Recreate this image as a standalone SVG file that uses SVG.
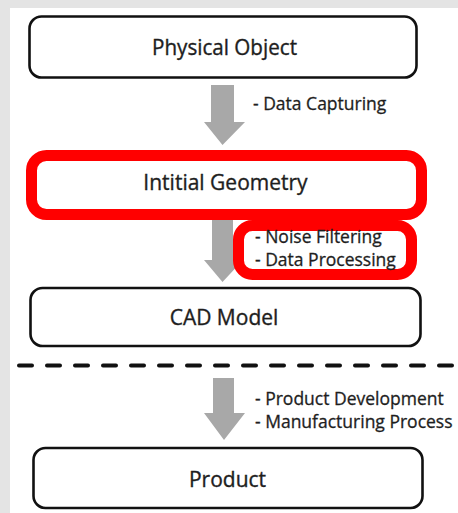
<svg xmlns="http://www.w3.org/2000/svg" width="458" height="513" viewBox="0 0 458 513">
<defs>
<style>
.box{fill:#fff;stroke:#111;stroke-width:2.6}
.hl{fill:none;stroke:#f00;stroke-width:11}
.arrow{fill:#a8a8a8}
.lbl{font-family:"Open Sans","Noto Sans",sans-serif;font-size:21px;fill:#1e1e1e;stroke:#1e1e1e;stroke-width:0.35;text-anchor:middle}
.side{font-family:"Open Sans","Noto Sans",sans-serif;font-size:17.5px;fill:#1e1e1e;stroke:#1e1e1e;stroke-width:0.3}
</style>
</defs>
<rect x="0" y="0" width="458" height="513" fill="#e4e4e4"/>
<rect x="10" y="8" width="448" height="505" fill="#fff"/>
<g id="connectors">
<polygon class="arrow" points="211,85 234,85 234,122 245,122 222.5,145 204,122 211,122"/>
<polygon class="arrow" points="212,210 233,210 233,260 243,260 222.5,282 204,260 212,260"/>
<polygon class="arrow" points="213,378 234,378 234,413 245,413 224,440 204,413 213,413"/>
<line x1="19" y1="365.5" x2="452" y2="365.5" stroke="#111" stroke-width="4" stroke-linecap="round" stroke-dasharray="13 15"/>
</g>
<g id="physical-object">
<rect class="box" x="29.5" y="16.5" width="387" height="61" rx="12"/>
<text class="lbl" x="224.5" y="55" textLength="145" lengthAdjust="spacingAndGlyphs">Physical Object</text>
</g>
<g id="label-data-capturing">
<text class="side" x="253" y="110">- Data Capturing</text>
</g>
<g id="initial-geometry">
<rect class="box" x="33" y="158" width="386" height="55" rx="12"/>
<rect class="hl" x="31.5" y="155.5" width="390" height="59" rx="15"/>
<text class="lbl" x="225.5" y="190">Intitial Geometry</text>
</g>
<g id="label-processing">
<rect class="hl" x="238.5" y="225.5" width="173" height="49" rx="14"/>
<text class="side" x="255" y="243">- Noise Filtering</text>
<text class="side" x="255" y="266">- Data Processing</text>
</g>
<g id="cad-model">
<rect class="box" x="30.5" y="288" width="390" height="58" rx="12"/>
<text class="lbl" x="224" y="325">CAD Model</text>
</g>
<g id="label-product">
<text class="side" x="255" y="405">- Product Development</text>
<text class="side" x="255" y="428">- Manufacturing Process</text>
</g>
<g id="product">
<rect class="box" x="33.5" y="448" width="389" height="60" rx="12"/>
<text class="lbl" x="227.5" y="487">Product</text>
</g>
</svg>
